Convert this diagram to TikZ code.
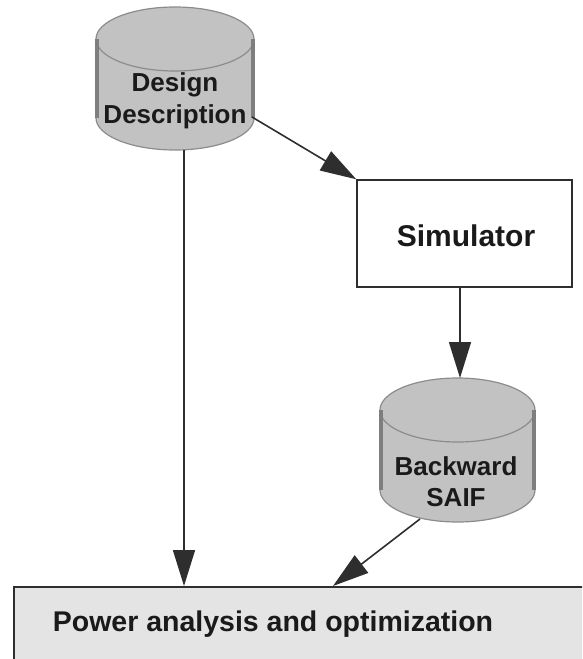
\documentclass[tikz,border=0pt]{standalone}
\usepackage{fontspec}
\setmainfont{Liberation Sans}
\usetikzlibrary{arrows.meta}
\definecolor{cylfill}{HTML}{C2C2C2}
\definecolor{cylline}{HTML}{8C8C8C}
\definecolor{cylside}{HTML}{7E7E7E}
\definecolor{boxfill}{HTML}{E4E4E4}
\definecolor{ink}{HTML}{1A1A1A}
\definecolor{wire}{HTML}{2E2E2E}
\tikzset{
  label text/.style={text=ink, font=\bfseries, align=center, inner sep=0pt},
  flow/.style={draw=wire, line width=1.6pt, -{Triangle[length=36pt,width=22pt]}},
  plainbox/.style={draw=wire, line width=1.4pt, fill=white},
}
% database cylinder: centre x, half width, top-ellipse centre y, side bottom y, ellipse radius y
\newcommand{\dbcyl}[5]{%
  \fill[cylfill] (#1-#2,#3) -- (#1-#2,#4) arc[start angle=180,end angle=360,x radius=#2,y radius=-#5]
    -- (#1+#2,#3) arc[start angle=0,end angle=180,x radius=#2,y radius=-#5] -- cycle;
  \draw[cylline, line width=1.2pt] (#1-#2,#4) arc[start angle=180,end angle=360,x radius=#2,y radius=-#5];
  \draw[cylline, line width=1.2pt] (#1,#3) ellipse[x radius=#2,y radius=#5];
  \draw[cylside, line width=3.5pt] (#1-#2+1.2,#3) -- (#1-#2+1.2,#4);
  \draw[cylside, line width=3.5pt] (#1+#2-1.2,#3) -- (#1+#2-1.2,#4);
}
\begin{document}
\begin{tikzpicture}[x=1pt,y=-1pt]
  \clip (0,0) rectangle (582,659);
  \useasboundingbox (0,0) rectangle (582,659);

  % design description store
  \dbcyl{175}{79}{39}{118}{32}
  \node[label text, font=\fontsize{26}{32}\selectfont\bfseries] (design) at (175,101) {Design\\Description};
  \coordinate (designout) at (252,117);
  \coordinate (designdown) at (184,150);

  % simulator
  \node[plainbox, minimum width=215pt, minimum height=107pt, inner sep=0pt] (sim) at (464.5,233.5) {};
  \node[label text, font=\fontsize{30}{36}\selectfont\bfseries] (simtext) at (466,236) {Simulator};

  % backward SAIF store
  \dbcyl{457.5}{77.5}{410}{490}{32}
  \node[label text, font=\fontsize{26}{31}\selectfont\bfseries] (saif) at (456,482) {Backward\\SAIF};
  \coordinate (saiftop) at (460,378);
  \coordinate (saifout) at (420,519);

  % power analysis box
  \node[draw=wire, line width=1.6pt, fill=boxfill, minimum width=640pt, minimum height=160pt, anchor=north west, inner sep=0pt] (power) at (13,586) {};
  \node[label text, font=\fontsize{28.5}{34}\selectfont\bfseries] (powertext) at (273,624) {Power analysis and optimization};
  \coordinate (powerin1) at (184,586);
  \coordinate (powerin2) at (333,586);

  % connectors
  \draw[flow] (designout) -- (sim.north west);
  \draw[flow] (sim.south -| saiftop) -- (saiftop);
  \draw[flow] (designdown) -- (powerin1);
  \draw[flow] (saifout) -- (powerin2);
\end{tikzpicture}
\end{document}
